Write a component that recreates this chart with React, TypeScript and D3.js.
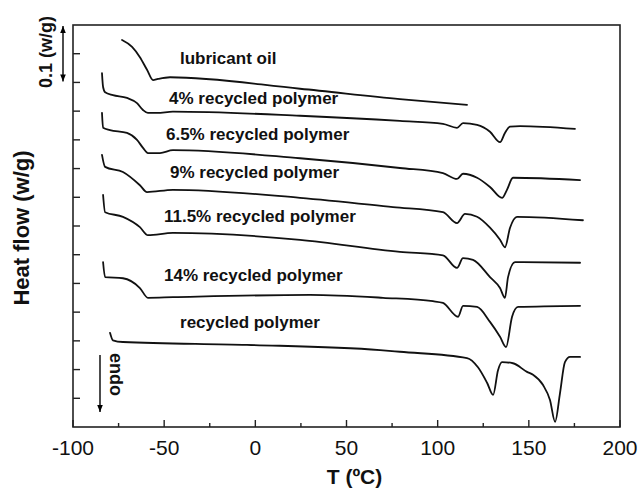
import React from "react";
import * as d3 from "d3";

// ---- data (T in °C, heat flow in W/g, curves vertically shifted as in the figure) ----
const SERIES_NAMES = [
  "lubricant oil",
  "4% recycled polymer",
  "6.5% recycled polymer",
  "9% recycled polymer",
  "11.5% recycled polymer",
  "14% recycled polymer",
  "recycled polymer",
];

const T_LUBE = [-73.1, -67.6, -63.3, -59.4, -56.1, -53.4, -46.8, 24.5, 79.3, 116.1];
const HF_LUBE = [0.674, 0.662, 0.644, 0.622, 0.604, 0.606, 0.609, 0.589, 0.571, 0.561];

const T_4 = [-84.1, -83.5, -82.4, -78.1, -70.4, -64.9, -61.6, -58.9, -53.9, -45.2, 24.5, 79.3, 102.9, 110.6, 113.9, 121.6, 128.7, 134.2, 136.9, 139.7, 145.2, 175.3];
const HF_4 = [0.616, 0.592, 0.583, 0.578, 0.573, 0.564, 0.552, 0.547, 0.547, 0.549, 0.542, 0.533, 0.528, 0.521, 0.529, 0.526, 0.514, 0.496, 0.512, 0.523, 0.524, 0.519];

const T_65 = [-84.1, -83.5, -79.7, -70.4, -64.9, -61.6, -58.9, -52.3, -45.2, 24.5, 79.3, 102.9, 110.6, 113.9, 121.6, 128.7, 135.3, 138.0, 141.3, 178.1];
const HF_65 = [0.547, 0.521, 0.517, 0.512, 0.5, 0.486, 0.477, 0.477, 0.482, 0.468, 0.451, 0.442, 0.432, 0.441, 0.434, 0.418, 0.399, 0.413, 0.434, 0.43];

const T_9 = [-84.1, -82.4, -72.6, -63.3, -59.4, -45.2, 24.5, 75.5, 102.9, 110.6, 115.0, 121.6, 128.7, 134.2, 136.9, 139.7, 143.5, 179.7];
const HF_9 = [0.474, 0.453, 0.444, 0.421, 0.409, 0.413, 0.399, 0.383, 0.374, 0.355, 0.371, 0.366, 0.347, 0.326, 0.313, 0.347, 0.366, 0.36];

const T_115 = [-83.5, -82.4, -72.6, -63.3, -58.9, -45.2, 24.5, 79.3, 102.9, 110.6, 113.9, 119.4, 128.7, 134.2, 136.9, 138.6, 142.4, 178.1];
const HF_115 = [0.404, 0.374, 0.366, 0.348, 0.334, 0.338, 0.326, 0.305, 0.299, 0.277, 0.294, 0.291, 0.261, 0.242, 0.225, 0.261, 0.287, 0.286];

const T_14 = [-83.5, -82.4, -72.6, -63.3, -58.9, -45.2, 30.0, 70.0, 97.4, 102.9, 111.2, 113.9, 121.6, 128.7, 134.2, 137.5, 140.8, 144.1, 178.1];
const HF_14 = [0.287, 0.261, 0.259, 0.242, 0.225, 0.226, 0.23, 0.225, 0.219, 0.216, 0.192, 0.211, 0.209, 0.183, 0.157, 0.139, 0.192, 0.209, 0.211];

const T_RP = [-79.7, -78.1, -72.6, -4.6, 68.4, 79.3, 116.1, 122.1, 127.1, 130.4, 133.1, 135.3, 141.3, 149.0, 152.3, 157.8, 161.6, 164.4, 167.1, 169.8, 172.6, 178.1];
const HF_RP = [0.164, 0.151, 0.148, 0.143, 0.134, 0.131, 0.12, 0.104, 0.077, 0.056, 0.099, 0.113, 0.111, 0.096, 0.091, 0.073, 0.047, 0.009, 0.059, 0.113, 0.122, 0.122];

const SERIES_T = [T_LUBE, T_4, T_65, T_9, T_115, T_14, T_RP];
const SERIES_HF = [HF_LUBE, HF_4, HF_65, HF_9, HF_115, HF_14, HF_RP];

const X_TICKS = [-100, -50, 0, 50, 100, 150, 200];
const X_MINOR = [-75, -25, 25, 75, 125, 175];
const Y_TICKS = [0.05, 0.1, 0.15, 0.2, 0.25, 0.3, 0.35, 0.4, 0.45, 0.5, 0.55, 0.6, 0.65];

// label anchors in data coordinates (T, heat flow)
const LABEL_T = [-41.3, -47.3, -49.0, -46.8, -50.1, -50.1, -41.3];
const LABEL_HF = [0.632, 0.562, 0.5, 0.434, 0.357, 0.254, 0.172];

const FONT = "Arial, 'Liberation Sans', Helvetica, sans-serif";

export default function App() {
  const W = 640, H = 491;
  const left = 73, right = 620, top = 25, bottom = 427;
  const x = d3.scaleLinear().domain([-100, 200]).range([left, right]);
  const y = d3.scaleLinear().domain([0, 0.7]).range([bottom, top]);

  const line = d3
    .line<[number, number]>()
    .x((d) => x(d[0]))
    .y((d) => y(d[1]))
    .curve(d3.curveMonotoneX);

  return (
    <svg
      width={W}
      height={H}
      viewBox={`0 0 ${W} ${H}`}
      style={{ position: "absolute", left: 0, top: 0, background: "#fff" }}
    >
      <defs>
        <marker id="ah" viewBox="0 0 10 10" refX="10" refY="5" markerWidth="7" markerHeight="7" orient="auto-start-reverse" markerUnits="userSpaceOnUse">
          <path d="M0,1 L10,5 L0,9 z" fill="#000" />
        </marker>
      </defs>
      <rect x={0} y={0} width={W} height={H} fill="#fff" />

      {/* curves */}
      {SERIES_T.map((ts, i) => {
        const pts = ts.map((t, j) => [t, SERIES_HF[i][j]] as [number, number]);
        return (
          <path key={i} d={line(pts) || ""} fill="none" stroke="#111" strokeWidth={1.8} strokeLinejoin="round" strokeLinecap="round" />
        );
      })}

      {/* labels */}
      {SERIES_NAMES.map((n, i) => (
        <text key={n} x={x(LABEL_T[i])} y={y(LABEL_HF[i])} fontFamily={FONT} fontWeight="bold" fontSize={17} fill="#111">
          {n}
        </text>
      ))}

      {/* frame */}
      <rect x={left} y={top} width={right - left} height={bottom - top} fill="none" stroke="#222" strokeWidth={1.6} />

      {/* x ticks */}
      {X_TICKS.map((t) => (
        <g key={t}>
          <line x1={x(t)} x2={x(t)} y1={bottom} y2={bottom - 7} stroke="#222" strokeWidth={1.4} />
          <text x={x(t)} y={455} textAnchor="middle" fontFamily={FONT} fontSize={21} fill="#111">
            {t}
          </text>
        </g>
      ))}
      {X_MINOR.map((t) => (
        <line key={t} x1={x(t)} x2={x(t)} y1={bottom} y2={bottom - 4} stroke="#222" strokeWidth={1.4} />
      ))}

      {/* y ticks */}
      {Y_TICKS.map((v) => (
        <line key={v} x1={left} x2={left + 7} y1={y(v)} y2={y(v)} stroke="#222" strokeWidth={1.4} />
      ))}

      {/* axis titles */}
      <text x={(left + right) / 2 + 8} y={484} textAnchor="middle" fontFamily={FONT} fontWeight="bold" fontSize={21} fill="#111">
        T (ºC)
      </text>
      <text transform={`translate(29,228) rotate(-90)`} textAnchor="middle" fontFamily={FONT} fontWeight="bold" fontSize={22} fill="#111">
        Heat flow (w/g)
      </text>

      {/* scale bar 0.1 W/g */}
      <line x1={63} x2={63} y1={y(0.7) + 1} y2={y(0.6) - 1} stroke="#000" strokeWidth={1.4} markerStart="url(#ah)" markerEnd="url(#ah)" />
      <text transform={`translate(52,52) rotate(-90)`} textAnchor="middle" fontFamily={FONT} fontWeight="bold" fontSize={18} fill="#111">
        0.1 (w/g)
      </text>

      {/* endo arrow */}
      <line x1={100} x2={100} y1={355} y2={412} stroke="#000" strokeWidth={1.4} markerEnd="url(#ah)" />
      <text transform={`translate(110,353) rotate(90)`} textAnchor="start" fontFamily={FONT} fontWeight="bold" fontSize={18} fill="#111">
        endo
      </text>
    </svg>
  );
}
